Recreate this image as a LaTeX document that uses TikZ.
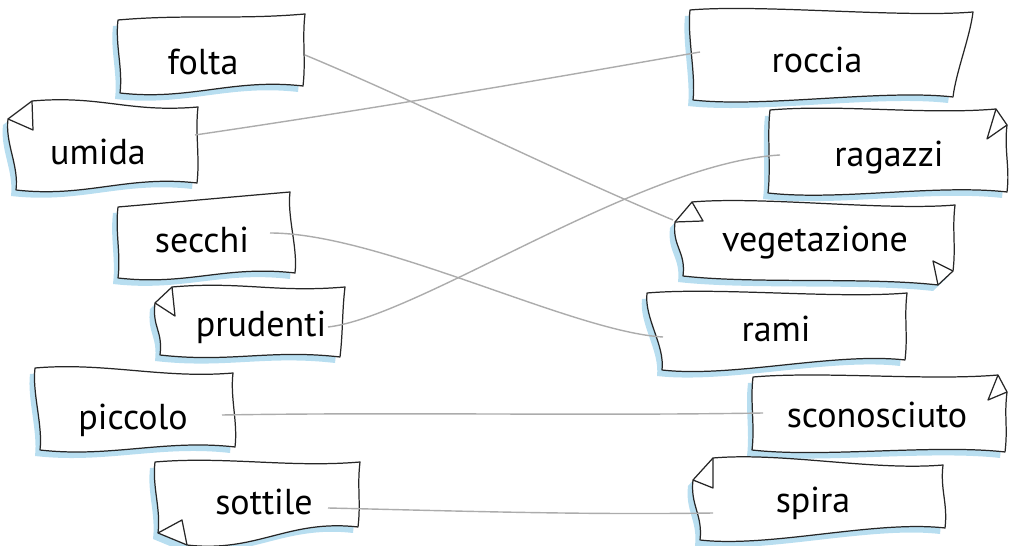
\documentclass[tikz,border=0pt]{standalone}
\usepackage{fontspec}
\setmainfont{PT Sans}
\usepackage{tikz}
\usetikzlibrary{calc}
\definecolor{sky}{RGB}{184,222,240}
\definecolor{pencil}{RGB}{38,38,38}

% banner: top left, top right, bottom right, bottom left (a corner may carry a fold)
\newcommand{\scroll}[4]{%
  \fill[sky, shift={(-5,6)}] #1 .. controls +(70,-6) and +(-70,6) .. #2
    .. controls +(-3,25) and +(3,-25) .. #3
    .. controls +(-70,-8) and +(70,8) .. #4
    .. controls +(3,-25) and +(-3,25) .. #1 -- cycle;
  \filldraw[edge, fill=white] #1 .. controls +(70,-6) and +(-70,6) .. #2
    .. controls +(-3,25) and +(3,-25) .. #3
    .. controls +(-70,-8) and +(70,8) .. #4
    .. controls +(3,-25) and +(-3,25) .. #1 -- cycle;
}

\begin{document}
\begin{tikzpicture}[x=0.02cm, y=-0.02cm,
    edge/.style={draw=pencil, line width=0.7pt, line join=round},
    link/.style={draw=gray!65, line width=0.8pt},
    word/.style={anchor=base, inner sep=0pt, font=\fontsize{20.5}{24}\selectfont}]
    \useasboundingbox (0,0) rectangle (1010,546);

    % left column
    \scroll{(118,20)}{(305,14)}{(303,86)}{(120,93)}
    \scroll{(8,119) -- (32,101)}{(198,107)}{(197,183)}{(16,190)}
    \draw[edge] (32,101) -- (33,130) -- (8,119);
    \scroll{(118,207)}{(290,192)}{(295,273)}{(118,278)}
    \scroll{(155,303) -- (172,287)}{(345,287)}{(340,357)}{(160,355)}
    \draw[edge] (172,287) -- (175,316) -- (155,303);
    \scroll{(35,368)}{(233,373)}{(235,447)}{(40,450)}
    \scroll{(155,462)}{(360,462)}{(358,527)}{(187,545) -- (158,533)}
    \draw[edge] (187,545) -- (182,520) -- (158,533);

    % right column
    \scroll{(690,10)}{(973,12)}{(953,97)}{(693,100)}
    \scroll{(770,110)}{(996,109) -- (1007,125)}{(1007,192)}{(768,193)}
    \draw[edge] (996,109) -- (987,139) -- (1007,125);
    \scroll{(675,222) -- (692,202)}{(955,205)}{(953,271) -- (938,285)}{(683,276)}
    \draw[edge] (692,202) -- (703,221) -- (675,222);
    \draw[edge] (953,271) -- (933,261) -- (938,285);
    \scroll{(647,293)}{(907,293)}{(905,360)}{(662,370)}
    \scroll{(753,377)}{(998,375) -- (1007,392)}{(1005,452)}{(752,450)}
    \draw[edge] (998,375) -- (988,400) -- (1007,392);
    \scroll{(693,480) -- (713,458)}{(943,465)}{(945,528)}{(700,540)}
    \draw[edge] (713,458) -- (713,488) -- (693,480);

    \node[word] (folta) at (203,75) {folta};
    \node[word] (umida) at (98,165) {umida};
    \node[word] (secchi) at (202,253) {secchi};
    \node[word] (prudenti) at (261,337) {prudenti};
    \node[word] (piccolo) at (133,430) {piccolo};
    \node[word] (sottile) at (264,515) {sottile};
    \node[word] (roccia) at (817,73) {roccia};
    \node[word] (ragazzi) at (889,167) {ragazzi};
    \node[word] (vegetazione) at (815,252) {vegetazione};
    \node[word] (rami) at (776,342) {rami};
    \node[word] (sconosciuto) at (877,428) {sconosciuto};
    \node[word] (spira) at (813,513) {spira};

    % pencil links
    \draw[link] ([shift={(102,-20)}]folta.base) .. controls +(120,50) and +(-120,-50) .. ([shift={(-142,-32)}]vegetazione.base);
    \draw[link] ([shift={(97,-30)}]umida.base) .. controls +(170,-25) and +(-170,30) .. ([shift={(-117,-21)}]roccia.base);
    \draw[link] ([shift={(68,-20)}]secchi.base) .. controls +(110,0) and +(-90,-5) .. ([shift={(-113,-5)}]rami.base);
    \draw[link] ([shift={(67,-10)}]prudenti.base) .. controls +(90,-10) and +(-140,8) .. ([shift={(-109,-12)}]ragazzi.base);
    \draw[link] ([shift={(89,-15)}]piccolo.base) .. controls +(180,-3) and +(-180,3) .. ([shift={(-114,-15)}]sconosciuto.base);
    \draw[link] ([shift={(64,-7)}]sottile.base) .. controls +(130,3) and +(-130,2) .. ([shift={(-100,0)}]spira.base);
\end{tikzpicture}
\end{document}
